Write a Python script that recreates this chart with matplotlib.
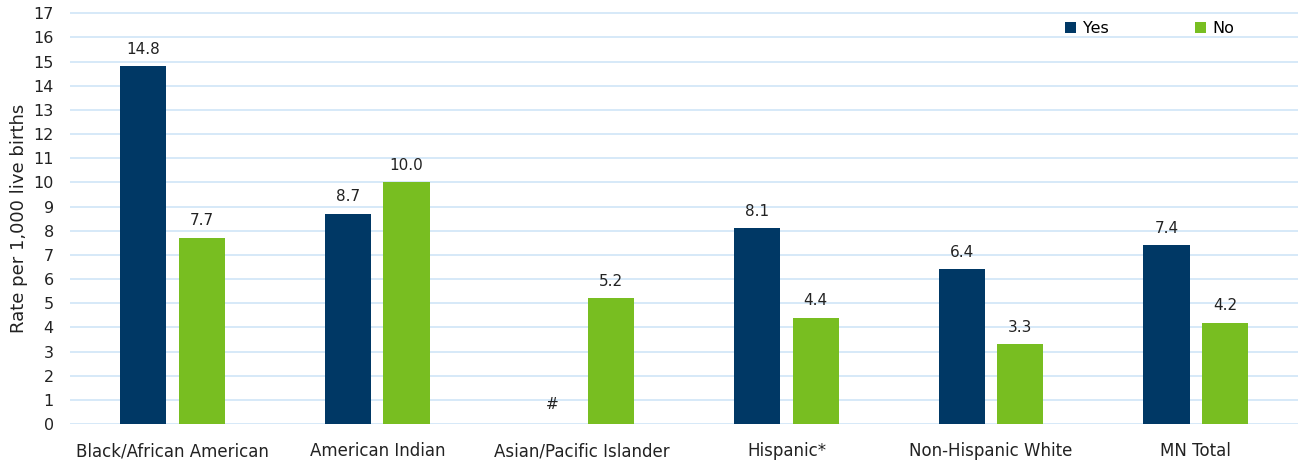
import matplotlib.pyplot as plt
import numpy as np

categories = ['Black/African American', 'American Indian', 'Asian/Pacific Islander',
              'Hispanic*', 'Non-Hispanic White', 'MN Total']
yes_vals = [14.8, 8.7, np.nan, 8.1, 6.4, 7.4]
no_vals = [7.7, 10.0, 5.2, 4.4, 3.3, 4.2]
suppressed_label = '#'

yes_color = '#003865'
no_color = '#78BE21'
grid_color = '#CFE5F7'

plt.rcParams['font.family'] = ['DejaVu Sans']

fig = plt.figure(figsize=(13.02, 4.63), dpi=100)
ax = fig.add_axes([0.054, 0.084, 0.943, 0.890])

x = np.arange(len(categories))
w = 0.225
off = 0.143
ax.bar(x - off, yes_vals, w, color=yes_color, label='Yes', zorder=3)
ax.bar(x + off, no_vals, w, color=no_color, label='No', zorder=3)

for xi, v in zip(x - off, yes_vals):
    if np.isnan(v):
        ax.text(xi, 0.5, suppressed_label, ha='center', va='bottom', fontsize=11, color='#222222')
    else:
        ax.text(xi, v + 0.4, f'{v:.1f}', ha='center', va='bottom', fontsize=11, color='#222222')
for xi, v in zip(x + off, no_vals):
    ax.text(xi, v + 0.4, f'{v:.1f}', ha='center', va='bottom', fontsize=11, color='#222222')

ax.set_xlim(-0.5, len(categories) - 0.5)
ax.set_ylim(0, 17.05)
ax.set_yticks(range(0, 18))
ax.set_xticks(x)
ax.set_xticklabels(categories, fontsize=12)
ax.tick_params(axis='both', length=0, labelsize=11.5, colors='#222222')
ax.tick_params(axis='x', pad=13, labelsize=12)
ax.tick_params(axis='y', pad=12)
ax.set_ylabel('Rate per 1,000 live births', fontsize=13, color='#222222', labelpad=4)

ax.yaxis.grid(True, color=grid_color, linewidth=1.2, zorder=0)
ax.set_axisbelow(True)
for s in ax.spines.values():
    s.set_visible(False)

ax.legend(loc='upper right', bbox_to_anchor=(0.957, 1.005), ncol=2, frameon=False,
          fontsize=11.5, handlelength=0.7, handleheight=0.7, handletextpad=0.4,
          columnspacing=5.4, borderaxespad=0.3)

plt.savefig('out.png', dpi=100)
